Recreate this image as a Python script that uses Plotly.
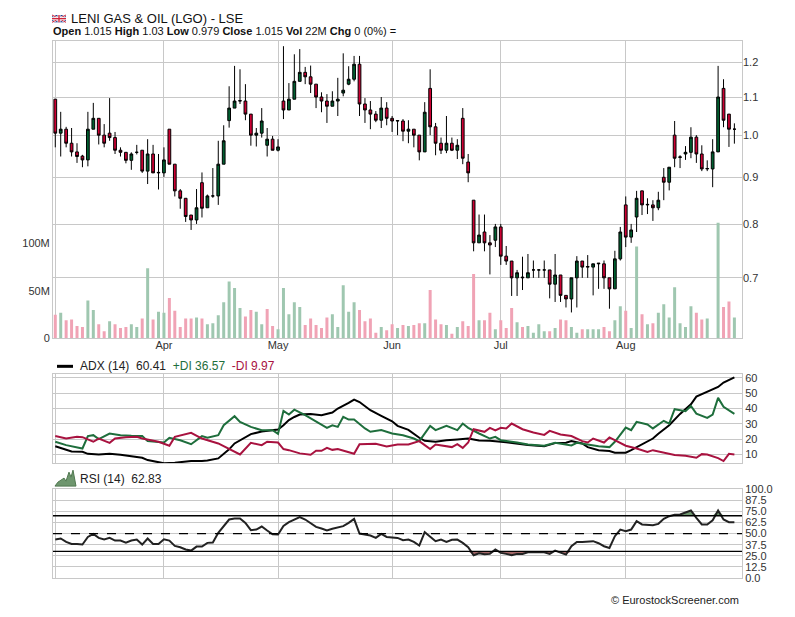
import numpy as np
import pandas as pd
import plotly.graph_objects as go

# the page photo shows the figure 8px in from the left and, vertically,
# at (figure_y + 13.3) * 0.982; page positions below are mapped through that
OX = 8
SY, OY = 0.982, 13.3
W, H = 787, 609

# LSE trading days, 1 Mar - 30 Aug 2013 (bank holidays removed)
holidays = ['2013-03-29', '2013-04-01', '2013-05-06', '2013-05-27', '2013-08-26']
dates = [d for d in pd.bdate_range('2013-03-01', '2013-08-30')
         if d.strftime('%Y-%m-%d') not in holidays]

opens = [1.094, 1.005, 1.015, 0.980, 0.959, 0.949, 0.940, 1.015, 1.043, 1.000,
         1.005, 0.994, 0.963, 0.958, 0.939, 0.958, 0.963, 0.914, 0.954, 0.910,
         0.910, 1.015, 0.930, 0.870, 0.854, 0.819, 0.809, 0.888, 0.834, 0.859,
         0.859, 0.930, 1.037, 1.070, 1.089, 1.089, 1.054, 1.000, 1.005, 0.975,
         0.990, 0.963, 1.089, 1.065, 1.094, 1.144, 1.170, 1.157, 1.136, 1.100,
         1.089, 1.075, 1.089, 1.111, 1.136, 1.150, 1.194, 1.081, 1.065, 1.054,
         1.038, 1.070, 1.043, 1.036, 1.036, 1.010, 1.015, 1.000, 0.959, 1.124,
         1.021, 0.980, 0.963, 0.980, 0.963, 1.043, 0.935, 0.850, 0.764, 0.785,
         0.764, 0.769, 0.795, 0.739, 0.730, 0.700, 0.700, 0.700, 0.714, 0.714,
         0.714, 0.714, 0.689, 0.705, 0.670, 0.664, 0.700, 0.730, 0.719, 0.719,
         0.725, 0.725, 0.700, 0.681, 0.734, 0.840, 0.775, 0.815, 0.870, 0.840,
         0.840, 0.834, 0.900, 0.889, 1.000, 0.946, 0.954, 0.958, 0.995, 0.954,
         0.919, 0.919, 0.959, 1.124, 1.054, 1.015]
highs = [1.094, 1.060, 1.021, 1.018, 0.980, 0.952, 1.060, 1.084, 1.043, 1.028,
         1.097, 1.008, 0.970, 0.958, 0.958, 0.976, 0.963, 0.990, 0.976, 0.954,
         0.970, 1.015, 0.930, 0.874, 0.854, 0.819, 0.874, 0.911, 0.862, 0.921,
         0.986, 1.025, 1.130, 1.189, 1.179, 1.136, 1.054, 1.018, 1.070, 1.018,
         0.998, 0.990, 1.249, 1.139, 1.224, 1.240, 1.186, 1.190, 1.136, 1.113,
         1.108, 1.116, 1.154, 1.227, 1.188, 1.219, 1.219, 1.097, 1.089, 1.062,
         1.100, 1.086, 1.049, 1.037, 1.041, 1.038, 1.015, 1.000, 1.086, 1.179,
         1.031, 0.994, 1.049, 0.994, 0.990, 1.070, 0.954, 0.850, 0.820, 0.820,
         0.779, 0.801, 0.801, 0.758, 0.730, 0.714, 0.738, 0.743, 0.731, 0.714,
         0.731, 0.714, 0.743, 0.705, 0.670, 0.700, 0.739, 0.730, 0.741, 0.725,
         0.725, 0.731, 0.700, 0.749, 0.795, 0.858, 0.801, 0.870, 0.870, 0.854,
         0.850, 0.868, 0.921, 0.923, 1.036, 0.951, 0.973, 1.020, 1.000, 0.975,
         0.939, 0.990, 1.189, 1.150, 1.054, 1.030]
lows = [0.970, 0.948, 0.970, 0.948, 0.933, 0.923, 0.925, 1.015, 0.977, 0.970,
        0.986, 0.954, 0.948, 0.932, 0.917, 0.953, 0.910, 0.885, 0.910, 0.873,
        0.901, 0.930, 0.858, 0.832, 0.805, 0.789, 0.801, 0.814, 0.834, 0.855,
        0.840, 0.930, 1.019, 1.070, 1.081, 1.038, 0.974, 0.972, 0.994, 0.948,
        0.963, 0.960, 1.041, 1.065, 1.094, 1.144, 1.136, 1.111, 1.070, 1.059,
        1.031, 1.075, 1.049, 1.102, 1.133, 1.144, 1.049, 1.031, 1.015, 1.033,
        1.018, 1.025, 1.008, 1.000, 0.985, 0.980, 0.970, 0.939, 0.959, 1.000,
        0.951, 0.954, 0.956, 0.961, 0.942, 0.930, 0.889, 0.748, 0.764, 0.748,
        0.706, 0.756, 0.723, 0.723, 0.669, 0.669, 0.679, 0.700, 0.700, 0.700,
        0.700, 0.665, 0.659, 0.659, 0.650, 0.642, 0.650, 0.700, 0.700, 0.670,
        0.681, 0.681, 0.648, 0.681, 0.731, 0.756, 0.764, 0.785, 0.819, 0.821,
        0.807, 0.829, 0.850, 0.871, 0.923, 0.921, 0.940, 0.944, 0.933, 0.914,
        0.914, 0.878, 0.959, 1.020, 0.971, 0.979]
closes = [1.005, 1.015, 0.980, 0.959, 0.948, 0.940, 1.015, 1.043, 1.000, 0.980,
          0.994, 0.963, 0.958, 0.939, 0.954, 0.958, 0.914, 0.954, 0.910, 0.911,
          0.940, 0.930, 0.870, 0.854, 0.816, 0.809, 0.834, 0.833, 0.859, 0.859,
          0.930, 0.986, 1.070, 1.089, 1.090, 1.054, 1.000, 1.005, 1.036, 0.990,
          0.963, 0.971, 1.065, 1.094, 1.144, 1.170, 1.157, 1.136, 1.100, 1.089,
          1.075, 1.089, 1.094, 1.119, 1.150, 1.194, 1.081, 1.065, 1.054, 1.038,
          1.070, 1.043, 1.036, 1.037, 1.010, 1.015, 1.000, 0.959, 1.059, 1.021,
          0.980, 0.963, 0.980, 0.963, 0.975, 0.944, 0.910, 0.764, 0.779, 0.764,
          0.760, 0.795, 0.739, 0.730, 0.700, 0.709, 0.701, 0.709, 0.714, 0.714,
          0.714, 0.689, 0.705, 0.670, 0.664, 0.700, 0.730, 0.719, 0.720, 0.725,
          0.726, 0.700, 0.681, 0.734, 0.785, 0.775, 0.789, 0.854, 0.840, 0.841,
          0.834, 0.850, 0.889, 0.923, 0.944, 0.947, 0.958, 0.995, 0.954, 0.919,
          0.920, 0.959, 1.100, 1.038, 1.015, 1.015]
volume_m = [25, 27, 19, 20, 13, 12, 40, 30, 15, 7.5,
            18, 15, 11, 12, 15, 12, 21, 74, 20, 28,
            27, 42.5, 29, 12, 21, 21, 22, 21, 15, 16,
            24.5, 38, 60, 53, 32, 23, 30, 28, 15, 31,
            13, 9.5, 53, 25.5, 38, 33, 14, 21, 14, 11,
            22, 25.5, 12, 56, 28, 38, 30, 18, 21, 6,
            12, 8.5, 15, 11, 14, 13, 14, 16, 16, 51,
            20, 15, 14, 5, 12, 18, 13, 68, 19, 19,
            27, 9.5, 19, 11, 32, 17, 12, 13, 6, 15,
            7.5, 7.5, 11, 20, 19, 12, 6, 9.5, 9.5, 9.5,
            9.5, 12, 7.5, 19, 34, 29, 11, 97, 25.5, 15,
            16, 27, 36, 22, 54, 16, 12, 34, 27, 20,
            21, 0, 122, 33, 39, 22]

# ADX(14), +DI, -DI (trading-day index, value)
adx_idx = [0, 2, 3, 5, 6, 8, 10, 12, 14, 16, 17, 19, 20, 22, 24, 25, 27, 28, 30, 31,
           32, 33, 35, 36, 38, 40, 41, 42, 43, 44, 45, 47, 49, 51, 52, 54, 55, 56, 58, 60,
           62, 63, 65, 67, 68, 70, 72, 74, 76, 78, 80, 83, 85, 87, 90, 92, 94, 95, 97, 98,
           100, 102, 103, 105, 106, 108, 110, 111, 113, 115, 117, 118, 120, 122, 123, 125]
adx_val = [15.4, 12.8, 12.0, 11.7, 10.4, 10.0, 10.4, 9.8, 8.9, 7.8, 6.3, 4.6, 4.2, 4.6, 5.2, 5.7, 5.7, 6.1, 7.4, 10.2,
           13.3, 17.2, 20.9, 23.3, 25.0, 25.7, 26.3, 29.1, 32.5, 34.5, 36.1, 36.5, 35.7, 37.4, 40.0, 43.7, 45.9, 44.3, 38.9, 35.2,
           31.7, 28.7, 26.1, 20.9, 18.9, 18.3, 19.3, 19.8, 20.4, 19.1, 18.9, 18.0, 17.2, 16.1, 15.4, 17.4, 17.6, 18.7, 17.2, 14.8,
           12.8, 12.2, 11.1, 11.1, 12.8, 16.5, 20.4, 23.5, 29.1, 36.5, 42.8, 47.8, 50.9, 54.1, 57.0, 60.41]
pdi_idx = [0, 2, 5, 6, 7, 8, 10, 12, 14, 16, 17, 20, 21, 23, 25, 27, 28, 30, 31, 33,
           34, 36, 38, 40, 41, 42, 43, 44, 46, 48, 50, 51, 52, 53, 54, 55, 57, 58, 60, 62,
           64, 66, 67, 69, 70, 72, 74, 75, 76, 78, 80, 81, 82, 85, 87, 90, 91, 92, 95, 96,
           98, 100, 102, 103, 105, 106, 107, 109, 110, 112, 113, 114, 116, 117, 118, 120, 121, 122, 123, 125]
pdi_val = [18.3, 16.1, 13.9, 22.0, 22.6, 20.0, 23.7, 22.6, 22.2, 22.0, 18.7, 17.8, 20.9, 19.3, 16.7, 22.0, 20.9, 22.6, 29.1, 35.0,
           31.3, 28.0, 25.9, 25.9, 23.5, 38.5, 36.1, 39.3, 35.7, 31.3, 27.4, 29.1, 28.0, 34.6, 32.8, 32.8, 27.0, 24.8, 25.9, 23.7,
           22.6, 20.4, 18.7, 28.7, 25.9, 28.7, 25.9, 30.2, 27.4, 23.7, 20.4, 21.5, 19.3, 17.8, 16.5, 15.7, 16.5, 17.6, 15.9, 17.6,
           16.5, 15.4, 14.8, 18.3, 27.6, 25.9, 31.3, 29.6, 27.0, 32.0, 30.2, 39.6, 38.3, 41.7, 36.7, 33.9, 36.1, 47.0, 41.1, 36.57]
mdi_idx = [0, 2, 4, 5, 7, 8, 10, 11, 13, 15, 16, 18, 19, 21, 22, 25, 27, 30, 32, 34,
           36, 38, 39, 41, 42, 43, 45, 47, 48, 49, 50, 51, 52, 55, 56, 59, 61, 63, 65, 67,
           68, 69, 70, 72, 73, 74, 75, 76, 77, 79, 80, 81, 82, 83, 84, 86, 88, 90, 91, 93,
           95, 97, 98, 99, 101, 102, 104, 105, 107, 109, 110, 112, 114, 116, 118, 119, 120, 122, 123, 124, 125]
mdi_val = [22.0, 20.4, 21.5, 21.3, 18.3, 20.4, 17.6, 20.4, 21.3, 21.5, 20.4, 18.7, 18.3, 15.7, 21.5, 24.1, 20.4, 17.2, 13.5, 10.0,
           17.6, 16.1, 18.3, 17.8, 13.5, 12.8, 10.7, 9.8, 12.4, 12.4, 14.3, 13.0, 13.5, 10.4, 16.7, 17.0, 15.2, 16.5, 16.5, 18.7,
           16.1, 13.5, 16.5, 15.4, 14.8, 16.7, 14.3, 17.8, 26.5, 24.8, 27.4, 25.7, 27.4, 27.0, 30.2, 26.5, 24.3, 22.8, 25.4, 23.0,
           22.0, 18.7, 17.8, 20.4, 17.8, 21.1, 17.8, 15.7, 13.9, 11.7, 12.8, 11.3, 9.6, 9.1, 7.8, 10.2, 10.0, 7.6, 5.7, 10.4, 9.97]

# RSI(14), one value per trading day
rsi = [43.2, 44.4, 40.6, 38.3, 38.3, 37.6, 46.2, 49.6, 45.1, 43.2,
       45.1, 42.1, 42.1, 39.8, 42.1, 43.2, 37.6, 44.4, 38.3, 38.3,
       43.6, 42.1, 36.1, 34.6, 32.0, 30.8, 35.3, 35.3, 39.5, 39.8,
       50.8, 58.3, 65.8, 66.9, 66.9, 62.0, 53.8, 54.5, 57.9, 53.4,
       49.2, 48.9, 58.6, 62.8, 66.0, 68.6, 65.8, 62.0, 57.5, 55.6,
       53.4, 55.3, 56.4, 58.3, 62.0, 66.5, 50.0, 48.9, 47.7, 45.1,
       49.6, 46.2, 45.5, 45.1, 42.5, 43.2, 40.6, 36.5, 51.5, 45.9,
       41.4, 43.2, 40.6, 42.9, 43.2, 39.5, 34.6, 25.6, 27.8, 26.7,
       27.1, 32.0, 28.2, 27.1, 25.6, 27.1, 27.1, 28.9, 29.3, 29.3,
       29.0, 27.1, 30.8, 28.2, 26.3, 35.7, 40.6, 40.6, 41.0, 41.4,
       39.1, 35.7, 33.8, 47.0, 54.5, 52.6, 54.5, 63.9, 60.2, 59.4,
       59.4, 60.9, 66.5, 69.5, 71.1, 71.4, 73.3, 75.9, 67.7, 60.2,
       60.2, 65.0, 75.9, 65.8, 62.8, 62.83]

price_ticks = [0.7, 0.8, 0.9, 1.0, 1.1, 1.2]
adx_ticks = [10, 20, 30, 40, 50, 60]
rsi_ticks = [0, 12.5, 25, 37.5, 50, 62.5, 75, 87.5, 100]

# colours
red = '#cc0033'
green = '#005f30'
vol_up = '#9fc7b0'
vol_dn = '#f0a3b5'
pdi_col = '#1e6e3c'
mdi_col = '#a8123f'
grid = '#c8c8c8'


def px(x):
    return (x - OX) / W


def pyf(fy):
    # figure pixel row -> paper fraction
    return 1 - fy / H


def py(y):
    # page pixel row -> paper fraction
    return pyf(y / SY - OY)


n = len(dates)
x = np.arange(n)
month_idx = [i for i in range(n) if i == 0 or dates[i].month != dates[i - 1].month]
month_lbl = ['' if i == 0 else dates[i].strftime('%b') for i in month_idx]

vol_colors = [vol_dn if closes[0] < opens[0] else vol_up]
for i in range(1, n):
    vol_colors.append(vol_up if closes[i] >= closes[i - 1] else vol_dn)

fig = go.Figure()

# volume (base axis, drawn under the candles)
fig.add_trace(go.Bar(x=x, y=volume_m, marker=dict(color=vol_colors, line=dict(width=0)),
                     width=0.55, xaxis='x', yaxis='y', hoverinfo='skip'))

# price candles on the overlaying log axis
fig.add_trace(go.Candlestick(
    x=x, open=opens, high=highs, low=lows, close=closes,
    increasing=dict(fillcolor=green, line=dict(color='black', width=1)),
    decreasing=dict(fillcolor=red, line=dict(color='black', width=1)),
    whiskerwidth=0, xaxis='x', yaxis='y2'))

# ADX panel
fig.add_trace(go.Scatter(x=adx_idx, y=adx_val, mode='lines', line=dict(color='black', width=2),
                         xaxis='x2', yaxis='y3'))
fig.add_trace(go.Scatter(x=pdi_idx, y=pdi_val, mode='lines', line=dict(color=pdi_col, width=2),
                         xaxis='x2', yaxis='y3'))
fig.add_trace(go.Scatter(x=mdi_idx, y=mdi_val, mode='lines', line=dict(color=mdi_col, width=2),
                         xaxis='x2', yaxis='y3'))

# RSI panel, shaded beyond 70 / 30
fig.add_trace(go.Scatter(x=x, y=[70] * n, mode='lines', line=dict(width=0),
                         xaxis='x3', yaxis='y4', hoverinfo='skip'))
fig.add_trace(go.Scatter(x=x, y=[max(v, 70) for v in rsi], mode='lines', line=dict(width=0),
                         fill='tonexty', fillcolor='rgb(110,150,110)', xaxis='x3', yaxis='y4'))
fig.add_trace(go.Scatter(x=x, y=[30] * n, mode='lines', line=dict(width=0),
                         xaxis='x3', yaxis='y4', hoverinfo='skip'))
fig.add_trace(go.Scatter(x=x, y=[min(v, 30) for v in rsi], mode='lines', line=dict(width=0),
                         fill='tonexty', fillcolor='rgb(165,105,105)', xaxis='x3', yaxis='y4'))
fig.add_trace(go.Scatter(x=x, y=rsi, mode='lines', line=dict(color='#222', width=2),
                         xaxis='x3', yaxis='y4'))

x_dom = [px(53), px(742)]
x_rng = [-0.42, 126.4]
tick_font = dict(size=11, color='#333')

xcommon = dict(range=x_rng, domain=x_dom, tickvals=month_idx, ticktext=month_lbl,
               showgrid=True, gridcolor=grid, gridwidth=1, zeroline=False,
               showline=True, mirror=True, linecolor=grid, ticks='',
               tickfont=tick_font, rangeslider=dict(visible=False))

fig.update_layout(
    width=W, height=H, margin=dict(l=0, r=0, t=0, b=0),
    paper_bgcolor='white', plot_bgcolor='white', showlegend=False,
    font=dict(family='Liberation Sans, Arial, sans-serif', size=11, color='#222'),
    boxgap=0.28,
    xaxis=dict(xcommon, anchor='y', ticklabelstandoff=-4),
    xaxis2=dict(xcommon, anchor='y3', matches='x', showticklabels=False),
    xaxis3=dict(xcommon, anchor='y4', matches='x', showticklabels=False),
    yaxis=dict(domain=[py(338), py(40)], range=[0, 313.7], side='left',
               tickvals=[0, 50, 100], ticktext=['0', '50M', '100M'],
               showgrid=False, zeroline=False, showline=True, mirror=True,
               linecolor=grid, ticks='', tickfont=tick_font),
    yaxis2=dict(overlaying='y', anchor='x', side='right', type='log',
                range=[np.log10(0.6017), np.log10(1.2657)],
                tickvals=price_ticks, ticktext=['%.1f' % v for v in price_ticks],
                showgrid=True, gridcolor=grid, zeroline=False, showline=False,
                ticks='', tickfont=tick_font),
    yaxis3=dict(domain=[py(463), py(374)], anchor='x2', side='right', range=[4.3, 62.4],
                tickvals=adx_ticks, showgrid=True, gridcolor=grid, zeroline=False,
                showline=True, mirror=True, linecolor=grid, ticks='', tickfont=tick_font),
    yaxis4=dict(domain=[py(578), py(489)], anchor='x3', side='right', range=[0, 100],
                tickvals=rsi_ticks, ticktext=['%.1f' % v for v in rsi_ticks],
                showgrid=True, gridcolor=grid, zeroline=False,
                showline=True, mirror=True, linecolor=grid, ticks='', tickfont=tick_font),
)

shapes = []
# RSI reference lines
for lvl, dash in [(70, 'solid'), (30, 'solid'), (50, 'dash')]:
    shapes.append(dict(type='line', xref='paper', yref='y4', x0=x_dom[0], x1=x_dom[1],
                       y0=lvl, y1=lvl, line=dict(color='black', width=1.3, dash=dash)))
# ADX legend swatch
shapes.append(dict(type='line', xref='paper', yref='paper', x0=px(57), x1=px(73),
                   y0=py(366), y1=py(366), line=dict(color='black', width=3)))
# RSI icon
icon = [(55, 486), (58, 482), (61, 480), (64, 478), (66, 481), (69, 472), (71, 477), (73, 470), (76, 486)]
path = 'M ' + ' L '.join('%.4f,%.4f' % (px(a), py(b)) for a, b in icon) + ' Z'
shapes.append(dict(type='path', xref='paper', yref='paper', path=path,
                   fillcolor='rgb(110,150,110)', line=dict(color='rgb(80,120,80)', width=1)))
# UK flag, in figure rows (the very top of the page cannot be reached)
fy0, fy1 = 1, 8.5
shapes.append(dict(type='rect', xref='paper', yref='paper', x0=px(52), x1=px(66), y0=pyf(fy1), y1=pyf(fy0),
                   fillcolor='#243f8c', line=dict(width=0)))
for (a, b, c, d) in [(52, fy0, 66, fy1), (52, fy1, 66, fy0)]:
    shapes.append(dict(type='line', xref='paper', yref='paper', x0=px(a), y0=pyf(b), x1=px(c), y1=pyf(d),
                       line=dict(color='white', width=2)))
    shapes.append(dict(type='line', xref='paper', yref='paper', x0=px(a), y0=pyf(b), x1=px(c), y1=pyf(d),
                       line=dict(color='#d0243a', width=1)))
fm = (fy0 + fy1) / 2
shapes.append(dict(type='rect', xref='paper', yref='paper', x0=px(57.5), x1=px(60.5), y0=pyf(fy1), y1=pyf(fy0),
                   fillcolor='white', line=dict(width=0)))
shapes.append(dict(type='rect', xref='paper', yref='paper', x0=px(52), x1=px(66), y0=pyf(fm + 1.5), y1=pyf(fm - 1.5),
                   fillcolor='white', line=dict(width=0)))
shapes.append(dict(type='rect', xref='paper', yref='paper', x0=px(58.3), x1=px(59.7), y0=pyf(fy1), y1=pyf(fy0),
                   fillcolor='#d0243a', line=dict(width=0)))
shapes.append(dict(type='rect', xref='paper', yref='paper', x0=px(52), x1=px(66), y0=pyf(fm + 0.7), y1=pyf(fm - 0.7),
                   fillcolor='#d0243a', line=dict(width=0)))
fig.update_layout(shapes=shapes)

ann = dict(xref='paper', yref='paper', showarrow=False, xanchor='left', yanchor='middle')
fig.add_annotation(ann, x=px(69), y=pyf(5), text='LENI GAS & OIL (LGO) - LSE',
                   font=dict(size=13, color='#111'))
fig.add_annotation(ann, x=px(51), y=pyf(17.5),
                   text='<b>Open</b> 1.015 <b>High</b> 1.03 <b>Low</b> 0.979 <b>Close</b> 1.015 '
                        '<b>Vol</b> 22M <b>Chg</b> 0 (0%) =',
                   font=dict(size=11, color='#111'))
fig.add_annotation(ann, x=px(78), y=py(366),
                   text='ADX (14)  60.41  <span style="color:%s">+DI 36.57</span>  '
                        '<span style="color:%s">-DI 9.97</span>' % (pdi_col, mdi_col),
                   font=dict(size=12, color='#222'))
fig.add_annotation(ann, x=px(78), y=py(479), text='RSI (14)  62.83',
                   font=dict(size=12, color='#222'))
fig.add_annotation(ann, x=px(741), y=py(600), xanchor='right', text='© EurostockScreener.com',
                   font=dict(size=11, color='#222'))

fig.write_html("out.html")
